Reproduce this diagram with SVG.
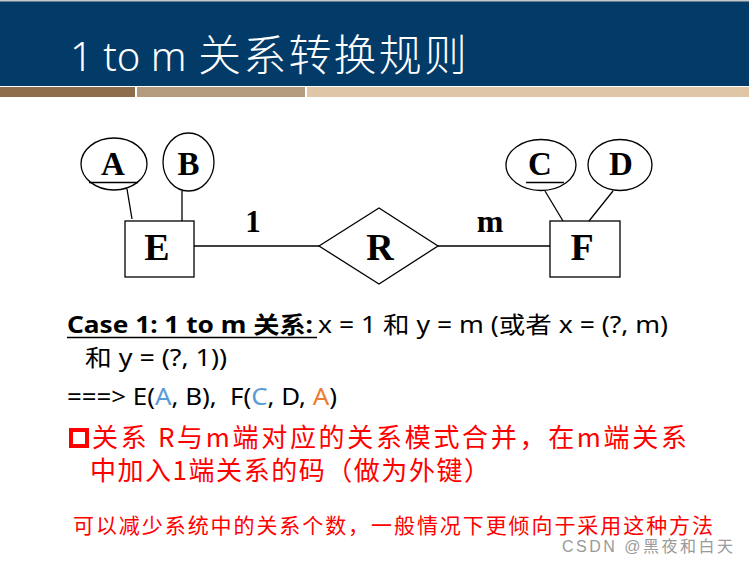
<svg xmlns="http://www.w3.org/2000/svg" width="749" height="563" viewBox="0 0 749 563">
<style>
.er{fill:none;stroke:#000;stroke-width:1.3}
.ln{stroke:#000;stroke-width:1.3}
.lbl{font-family:"Liberation Serif",serif;font-weight:bold;fill:#000;text-anchor:middle}
.t{font-family:"Noto Sans","Noto Sans CJK SC",sans-serif;font-size:23px;fill:#000;white-space:pre}
.red{font-family:"Noto Sans CJK SC",sans-serif;fill:#f00;white-space:pre}
</style>
<rect width="749" height="563" fill="#fff"/>
<g id="header">
<rect x="0" y="0" width="749" height="86" fill="#023a68"/>
<rect x="0" y="0" width="749" height="1.5" fill="#c8c8c8"/>
<rect x="0" y="87" width="135" height="10" fill="#8e6d4d"/>
<rect x="137" y="87" width="168" height="10" fill="#b59b7d"/>
<rect x="307" y="87" width="442" height="10" fill="#dfc6a6"/>
<text x="70" y="71" font-family="Noto Sans, sans-serif" font-size="40" font-weight="300" fill="#fff">1 to m</text>
<text x="198" y="71" font-family="Noto Sans CJK SC, sans-serif" font-size="43" font-weight="300" fill="#fff" textLength="269" lengthAdjust="spacing">关系转换规则</text>
</g>
<g id="connectors">
<line class="ln" x1="127" y1="189" x2="132" y2="219"/>
<line class="ln" x1="182" y1="191" x2="182" y2="221"/>
<line class="ln" x1="545" y1="191" x2="563" y2="221"/>
<line class="ln" x1="613" y1="191" x2="589" y2="221"/>
<line class="ln" x1="194" y1="246" x2="319" y2="246"/>
<line class="ln" x1="438" y1="246" x2="550" y2="246"/>
<text class="lbl" x="253" y="232" font-size="31">1</text>
<text class="lbl" x="490" y="232" font-size="32">m</text>
</g>
<g id="attrA">
<ellipse class="er" cx="114" cy="164" rx="33" ry="26"/>
<line class="ln" x1="89" y1="182.5" x2="138" y2="182.5"/>
<text class="lbl" x="113" y="175" font-size="33">A</text>
</g>
<g id="attrB">
<ellipse class="er" cx="188.5" cy="162" rx="25.5" ry="29"/>
<text class="lbl" x="188.5" y="175" font-size="33">B</text>
</g>
<g id="attrC">
<ellipse class="er" cx="541" cy="165" rx="35" ry="25.5"/>
<line class="ln" x1="526" y1="182.5" x2="564" y2="182.5"/>
<text class="lbl" x="540" y="175" font-size="33">C</text>
</g>
<g id="attrD">
<ellipse class="er" cx="620" cy="165" rx="32" ry="25.5"/>
<text class="lbl" x="621" y="175" font-size="33">D</text>
</g>
<g id="entityE">
<rect class="er" x="125" y="221" width="69" height="56"/>
<text class="lbl" x="157" y="260" font-size="38">E</text>
</g>
<g id="relR">
<polygon class="er" points="319,246 379,208 438,246 379,284"/>
<text class="lbl" x="380" y="260" font-size="38">R</text>
</g>
<g id="entityF">
<rect class="er" x="550" y="221" width="70" height="56"/>
<text class="lbl" x="582" y="260" font-size="38">F</text>
</g>
<g id="text">
<text class="t" x="67" y="333" font-weight="bold" textLength="246" lengthAdjust="spacingAndGlyphs">Case 1: 1 to m 关系:</text>
<line x1="67" y1="337.5" x2="317" y2="337.5" stroke="#000" stroke-width="1.6"/>
<text class="t" x="318" y="333" textLength="350" lengthAdjust="spacingAndGlyphs">x = 1 和 y = m (或者 x = (?, m)</text>
<text class="t" x="85" y="366" textLength="142" lengthAdjust="spacingAndGlyphs">和 y = (?, 1))</text>
<text class="t" x="67" y="405" textLength="270" lengthAdjust="spacingAndGlyphs">===&gt; E(<tspan fill="#5b9bd5">A</tspan>, B),  F(<tspan fill="#5b9bd5">C</tspan>, D, <tspan fill="#ed7d31">A</tspan>)</text>
<rect x="71" y="430" width="16" height="16" fill="none" stroke="#f00" stroke-width="4"/>
<text class="red" x="92" y="447" font-size="26" textLength="595" lengthAdjust="spacing">关系 R与m端对应的关系模式合并，在m端关系</text>
<text class="red" x="90" y="480" font-size="26" textLength="400" lengthAdjust="spacing">中加入1端关系的码（做为外键）</text>
<text class="red" x="73" y="533" font-size="21" textLength="640" lengthAdjust="spacing">可以减少系统中的关系个数，一般情况下更倾向于采用这种方法</text>
<text x="562" y="552" font-family="Liberation Sans, Noto Sans CJK SC, sans-serif" font-size="16" fill="#9a9a9a" textLength="171" lengthAdjust="spacing">CSDN @黑夜和白天</text>
</g>
</svg>
